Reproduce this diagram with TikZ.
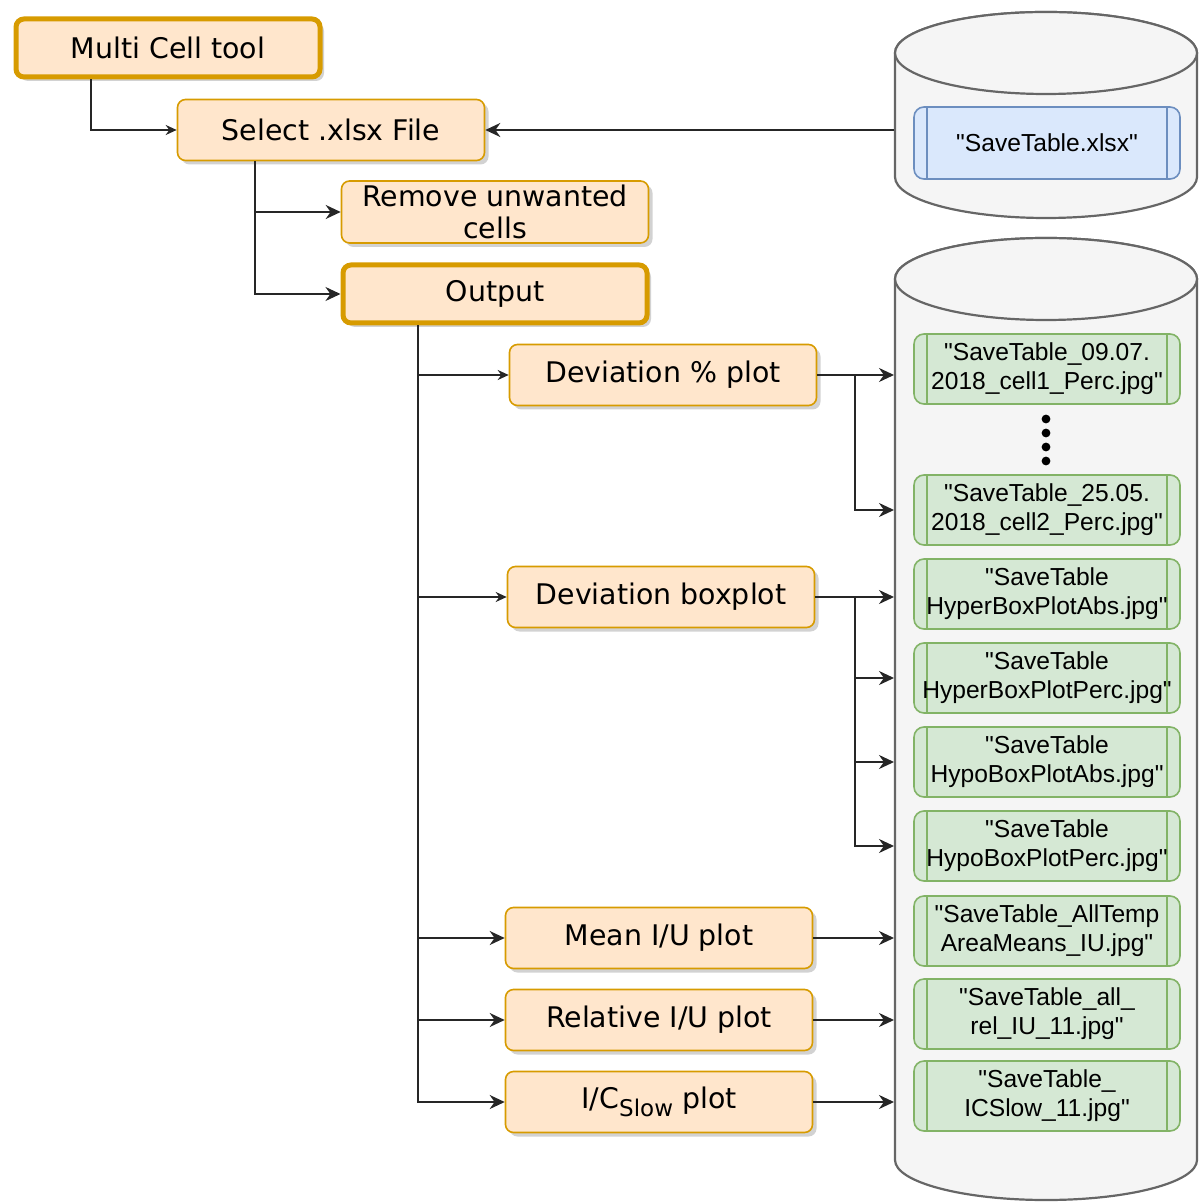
\documentclass[tikz,border=0pt]{standalone}
\usepackage{fontspec}
\setmainfont{DejaVu Sans}
\newfontfamily\arialfont{Liberation Sans}
\usetikzlibrary{arrows.meta,shadows}

\definecolor{orfill}{HTML}{FFE6CC}
\definecolor{ordraw}{HTML}{D79B00}
\definecolor{grfill}{HTML}{D5E8D4}
\definecolor{grdraw}{HTML}{82B366}
\definecolor{blfill}{HTML}{DAE8FC}
\definecolor{bldraw}{HTML}{6C8EBF}
\definecolor{dbfill}{HTML}{F5F5F5}
\definecolor{dbdraw}{HTML}{666666}

\begin{document}
\begin{tikzpicture}[x=0.5pt, y=-0.5pt,
    task/.style={draw=ordraw, fill=orfill, line width=0.8pt, rounded corners=4pt,
      minimum width=153.5pt, minimum height=30.5pt, inner sep=2pt, align=center,
      font=\fontsize{14.2}{16}\selectfont,
      drop shadow={shadow xshift=2pt, shadow yshift=-2pt, fill=black!35, opacity=.5}},
    mainstep/.style={task, line width=2.5pt, minimum width=152pt, minimum height=29pt},
    file/.style={draw=#1, line width=0.8pt, rounded corners=5pt,
      minimum width=133pt, minimum height=35pt, inner sep=1pt, align=center,
      font=\arialfont\fontsize{12.3}{14.5}\selectfont,
      path picture={\draw[#1, line width=0.8pt]
        ([xshift=6.5pt]path picture bounding box.north west) -- ([xshift=6.5pt]path picture bounding box.south west)
        ([xshift=-6.5pt]path picture bounding box.north east) -- ([xshift=-6.5pt]path picture bounding box.south east);}},
    green/.style={file=grdraw, fill=grfill},
    blue/.style={file=bldraw, fill=blfill, minimum height=36pt},
    db/.style={draw=dbdraw, fill=dbfill, line width=1.1pt},
    lnk/.style={draw=black!85, line width=1pt, -{Stealth[length=5.5pt, width=5pt]}},
    lnkb/.style={draw=black!85, line width=1pt, -{Stealth[length=7.5pt, width=7pt]}}]
  \useasboundingbox (0,0) rectangle (1198,1202);

  % Datenbanken (rechts)
  \path[db] (895,53) -- (895,177) arc[start angle=180, end angle=360, x radius=75.5pt, y radius=20.5pt]
    -- (1197,53) arc[start angle=0, end angle=180, x radius=75.5pt, y radius=20.5pt] -- cycle;
  \draw[db] (1046,53) ellipse[x radius=75.5pt, y radius=20.5pt];
  \path[db] (895,279) -- (895,1160) arc[start angle=180, end angle=360, x radius=75.5pt, y radius=20pt]
    -- (1197,279) arc[start angle=0, end angle=180, x radius=75.5pt, y radius=20.5pt] -- cycle;
  \draw[db] (1046,279) ellipse[x radius=75.5pt, y radius=20.5pt];
  \coordinate (dbL) at (894,0);

  % Dateien
  \node[blue] (xlsx) at (1047,143) {"SaveTable.xlsx"};
  \node[green] (g1) at (1047,369) {"SaveTable\_09.07.\\2018\_cell1\_Perc.jpg"};
  \node[green] (g2) at (1047,510) {"SaveTable\_25.05.\\2018\_cell2\_Perc.jpg"};
  \node[green] (g3) at (1047,594) {"SaveTable\\HyperBoxPlotAbs.jpg"};
  \node[green] (g4) at (1047,678) {"SaveTable\\HyperBoxPlotPerc.jpg"};
  \node[green] (g5) at (1047,762) {"SaveTable\\HypoBoxPlotAbs.jpg"};
  \node[green] (g6) at (1047,846) {"SaveTable\\HypoBoxPlotPerc.jpg"};
  \node[green] (g7) at (1047,931) {"SaveTable\_AllTemp\\AreaMeans\_IU.jpg"};
  \node[green] (g8) at (1047,1014) {"SaveTable\_all\_\\rel\_IU\_11.jpg"};
  \node[green] (g9) at (1047,1096) {"SaveTable\_\\ICSlow\_11.jpg"};
  \foreach \y in {419,433,447,461}
    \fill (1046,\y) circle (2.2pt);

  % Schritte (links)
  \node[mainstep] (mct) at (168,48) {Multi Cell tool};
  \node[task] (sel) at (331,130) {Select .xlsx File};
  \node[task] (rem) at (495,212) {Remove unwanted\\cells};
  \node[mainstep] (out) at (495,294) {Output};

  % Plots (mitte)
  \node[task] (dev) at (663,375) {Deviation \% plot};
  \node[task] (box) at (661,597) {Deviation boxplot};
  \node[task] (mean) at (659,938) {Mean I/U plot};
  \node[task] (rel) at (659,1020) {Relative I/U plot};
  \node[task] (ics) at (659,1102) {I/C\raisebox{-.3em}{\fontsize{11.5}{11.5}\selectfont Slow} plot};

  % Verbindungen
  \draw[lnk] ([xshift=-38.5pt]mct.south) |- (sel.west);
  \draw[lnkb] (sel.east -| dbL) -- (sel.east);
  \draw[lnkb] ([xshift=-38pt]sel.south) |- (rem.west);
  \draw[lnkb] ([xshift=-38pt]sel.south) |- (out.west);

  \draw[lnk] ([xshift=-38.5pt]out.south) |- (dev.west);
  \draw[lnk] ([xshift=-38.5pt]out.south) |- (box.west);
  \draw[lnkb] ([xshift=-38.5pt]out.south) |- (mean.west);
  \draw[lnkb] ([xshift=-38.5pt]out.south) |- (rel.west);
  \draw[lnkb] ([xshift=-38.5pt]out.south) |- (ics.west);

  \draw[lnkb] (dev.east) -- (dev.east -| dbL);
  \draw[lnkb] (dev.east) -- ++(38,0) |- (g2.west -| dbL);
  \draw[lnkb] (box.east) -- (box.east -| dbL);
  \draw[lnkb] (box.east) -- ++(40,0) |- (g4.west -| dbL);
  \draw[lnkb] (box.east) -- ++(40,0) |- (g5.west -| dbL);
  \draw[lnkb] (box.east) -- ++(40,0) |- (g6.west -| dbL);
  \draw[lnkb] (mean.east) -- (mean.east -| dbL);
  \draw[lnkb] (rel.east) -- (rel.east -| dbL);
  \draw[lnkb] (ics.east) -- (ics.east -| dbL);
\end{tikzpicture}
\end{document}
